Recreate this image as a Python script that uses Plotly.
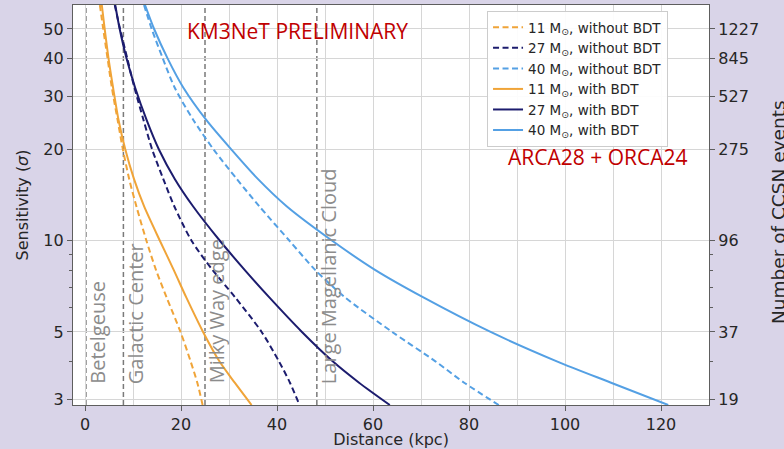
import plotly.graph_objects as go

# ---------------- data ----------------
# sensitivity levels (sigma) at which the distances (kpc) were read
s_levels = [60, 50, 40, 32, 25, 20, 16, 13, 10, 8, 6.5, 5, 4, 3.4, 2.87]

d_11_nobdt = [3.1, 3.8, 4.7, 5.6, 6.8, 7.9, 9.2, 10.7, 12.8, 14.8, 17.0, 19.9, 22.0, 23.4, 24.5]
d_27_nobdt = [6.2, 7.3, 8.8, 10.3, 12.2, 14.0, 16.3, 18.6, 22.2, 26.6, 31.3, 36.8, 40.4, 42.7, 44.7]
d_40_nobdt = [12.3, 13.9, 16.2, 18.7, 22.6, 26.8, 31.6, 36.3, 42.6, 48.0, 54.2, 64.0, 73.0, 79.0, 86.2]
d_11_bdt = [3.5, 4.1, 4.9, 5.85, 7.0, 8.4, 10.2, 12.3, 15.6, 18.5, 21.1, 24.6, 28.0, 31.2, 34.7]
d_27_bdt = [6.3, 7.23, 8.65, 10.45, 12.85, 15.4, 18.7, 22.5, 28.1, 33.3, 38.4, 45.2, 51.6, 57.1, 63.5]
d_40_bdt = [12.5, 14.4, 17.2, 20.5, 25.3, 30.5, 36.0, 42.0, 51.5, 60.5, 70.5, 84.5, 98.3, 109.6, 121.5]

# landmarks (kpc)
landmark_names = ["Betelgeuse", "Galactic Center", "Milky Way edge", "Large Magellanic Cloud"]
landmark_dist = [0.2, 8.0, 25.0, 48.3]

# axis ticks
x_ticks = [0, 20, 40, 60, 80, 100, 120]
x_minor = [10, 30, 50, 70, 90, 110, 130]
sigma_ticks = [3, 5, 10, 20, 30, 40, 50]
event_ticks = ["19", "37", "96", "275", "527", "845", "1227"]
sigma_minor = [4, 6, 7, 8, 9]
x_range = [-2.5, 130]
y_range_log = [0.45788, 1.77815]  # 2.87 .. 60 sigma

# ---------------- styling ----------------
ORANGE = "rgb(240,164,56)"
NAVY = "rgb(28,28,110)"
LBLUE = "rgb(84,160,228)"
BG = "rgb(217,212,232)"
AX = "#5e5e5e"
GRID = "#d6d6d6"
TXT = "#262626"
TICKF = dict(family="DejaVu Sans", size=16, color=TXT)
DASH = "6px,3.5px"

series = [
    (d_11_nobdt, ORANGE, DASH, "11 M<sub>⊙</sub>, without BDT"),
    (d_27_nobdt, NAVY, DASH, "27 M<sub>⊙</sub>, without BDT"),
    (d_40_nobdt, LBLUE, DASH, "40 M<sub>⊙</sub>, without BDT"),
    (d_11_bdt, ORANGE, "solid", "11 M<sub>⊙</sub>, with BDT"),
    (d_27_bdt, NAVY, "solid", "27 M<sub>⊙</sub>, with BDT"),
    (d_40_bdt, LBLUE, "solid", "40 M<sub>⊙</sub>, with BDT"),
]

fig = go.Figure()
for d, c, dash, name in series:
    fig.add_trace(go.Scatter(
        x=d, y=s_levels, mode="lines", name=name,
        line=dict(color=c, width=2, dash=dash, shape="spline", smoothing=0.8),
    ))

# invisible trace to activate right axis
fig.add_trace(go.Scatter(x=[x_range[0]], y=[s_levels[-1]], yaxis="y2", mode="markers",
                         marker=dict(opacity=0), showlegend=False, hoverinfo="skip"))

# landmark lines and labels
for name, dist in zip(landmark_names, landmark_dist):
    fig.add_shape(type="line", xref="x", yref="paper", x0=dist, x1=dist, y0=0, y1=1,
                  line=dict(color="#7a7a7a", width=1.5, dash="5px,3px"), layer="below")
    fig.add_annotation(x=dist, xref="x", y=0.048, yref="paper", text=name, showarrow=False,
                       textangle=-90, xanchor="left", yanchor="bottom", xshift=-4,
                       font=dict(family="Open Sans", size=20, color="#8c8c8c"))

fig.add_annotation(x=0.3525, y=0.936, xref="paper", yref="paper", text="KM3NeT PRELIMINARY",
                   xanchor="center", yanchor="middle",
                   showarrow=False, font=dict(family="Open Sans", size=21, color="#c00000"))
fig.add_annotation(x=0.825, y=0.62, xref="paper", yref="paper", text="ARCA28 + ORCA24",
                   xanchor="center", yanchor="middle",
                   showarrow=False, font=dict(family="Open Sans", size=21, color="#c00000"))

# right-axis title (runs past the right edge of the page, as in the reference)
fig.add_annotation(x=1.1085, y=0.4825, xref="paper", yref="paper", text="Number of CCSN events",
                   xanchor="center", yanchor="middle", textangle=-90, showarrow=False,
                   font=dict(family="DejaVu Sans", size=18.5, color=TXT))

fig.update_layout(
    width=784, height=449,
    margin=dict(l=73, r=75, t=5, b=44),
    paper_bgcolor=BG, plot_bgcolor="white",
    showlegend=True,
    legend=dict(x=0.651, y=0.985, xanchor="left", yanchor="top",
                bgcolor="rgba(255,255,255,0.92)", bordercolor="#cccccc", borderwidth=1,
                font=dict(family="DejaVu Sans", size=13.5, color=TXT),
                tracegroupgap=0, itemwidth=30),
    xaxis=dict(range=x_range, tickvals=x_ticks, automargin=False,
               showline=True, linecolor=AX, linewidth=1.3, mirror=True,
               ticks="outside", ticklen=5, tickcolor=AX, tickfont=TICKF,
               showgrid=True, gridcolor=GRID, gridwidth=1.3, zeroline=False,
               minor=dict(tickvals=x_minor, showgrid=True, gridcolor=GRID, gridwidth=1.3, ticks=""),
               title=dict(text="Distance (kpc)", font=dict(family="DejaVu Sans", size=16, color=TXT),
                          standoff=3)),
    yaxis=dict(type="log", range=y_range_log, tickvals=sigma_ticks, automargin=False,
               ticktext=[str(v) for v in sigma_ticks],
               showline=True, linecolor=AX, linewidth=1.3, mirror=False,
               ticks="outside", ticklen=5, tickcolor=AX, tickfont=TICKF,
               showgrid=True, gridcolor=GRID, gridwidth=1.3, zeroline=False,
               minor=dict(tickvals=sigma_minor, ticks="outside", ticklen=3, tickcolor=AX,
                          showgrid=False),
               title=dict(text="Sensitivity (<i>σ</i>)", font=dict(family="DejaVu Sans", size=16, color=TXT),
                          standoff=10)),
    yaxis2=dict(type="log", range=y_range_log, overlaying="y", side="right", anchor="x",
                tickvals=sigma_ticks, ticktext=event_ticks, automargin=False,
                showline=True, linecolor=AX, linewidth=1.3,
                ticks="outside", ticklen=5, tickcolor=AX, tickfont=TICKF,
                showgrid=False, zeroline=False,
                minor=dict(tickvals=sigma_minor, ticks="outside", ticklen=3, tickcolor=AX,
                           showgrid=False)),
)

fig.write_html("out.html", config={"displayModeBar": False},
               post_script="document.body.style.margin='0px';document.body.style.background='rgb(217,212,232)';")
